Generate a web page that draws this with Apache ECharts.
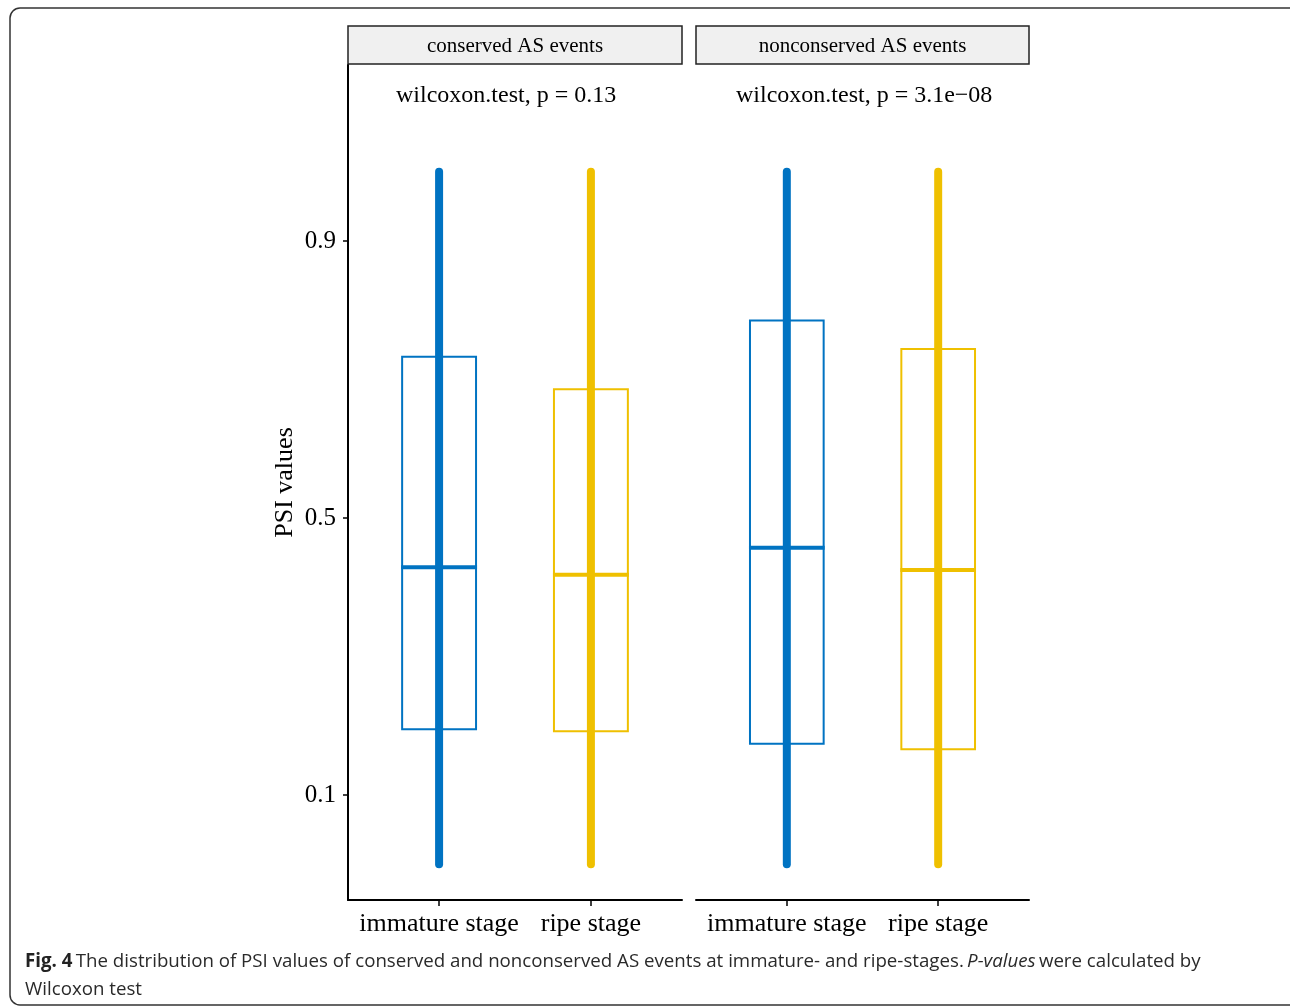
<!DOCTYPE html>
<html>
<head>
<meta charset="utf-8">
<script src="https://cdn.jsdelivr.net/npm/echarts@6/dist/echarts.min.js"></script>
<style>
html,body{margin:0;padding:0;background:#fff;}
#chart{width:1290px;height:1008px;}
</style>
</head>
<body>
<div id="chart"></div>
<script>
// ---- data ----
const categories = ['immature stage', 'ripe stage'];
const facets = ['conserved AS events', 'nonconserved AS events'];
const pLabels = ['wilcoxon.test, p = 0.13', 'wilcoxon.test, p = 3.1e\u221208'];
const yTicks = [0.1, 0.5, 0.9];
// per facet: [immature, ripe]
const whiskerLow = [[0.0, 0.0], [0.0, 0.0]];
const q1 = [[0.195, 0.192], [0.174, 0.166]];
const median = [[0.429, 0.418], [0.457, 0.425]];
const q3 = [[0.733, 0.686], [0.785, 0.744]];
const whiskerHigh = [[1.0, 1.0], [1.0, 1.0]];
const colors = ['#0073C2', '#EFC000'];

const SERIF = 'Liberation Serif';
const chart = echarts.init(document.getElementById('chart'), null, {renderer: 'canvas'});

const Y_MIN = -0.0516, Y_MAX = 1.1541;

function renderBox(params, api) {
  const x = api.value(0);
  const lo = api.value(1), a = api.value(2), m = api.value(3), b = api.value(4), hi = api.value(5);
  const ci = api.value(6);
  const col = colors[ci];
  const halfW = api.size([0.5, 0])[0] / 2;
  const pLo = api.coord([x, lo]), pA = api.coord([x, a]), pM = api.coord([x, m]), pB = api.coord([x, b]), pHi = api.coord([x, hi]);
  return {
    type: 'group',
    children: [
      {type: 'rect', shape: {x: pB[0] - halfW + 1, y: pB[1], width: 2 * halfW - 2, height: pA[1] - pB[1]},
        style: {fill: 'none', stroke: col, lineWidth: 2}},
      {type: 'line', shape: {x1: pM[0] - halfW, y1: pM[1], x2: pM[0] + halfW, y2: pM[1]},
        style: {stroke: col, lineWidth: 4}},
      {type: 'line', shape: {x1: pLo[0], y1: pLo[1], x2: pHi[0], y2: pHi[1]},
        style: {stroke: col, lineWidth: 8, lineCap: 'round'}}
    ]
  };
}

function facetData(f) {
  return categories.map((c, i) => [i + 1, whiskerLow[f][i], q1[f][i], median[f][i], q3[f][i], whiskerHigh[f][i], i]);
}

const grids = [
  {left: 348, top: 65, width: 334, height: 835},
  {left: 696, top: 65, width: 333, height: 835}
];

function xAxisFor(i) {
  return {
    type: 'value', gridIndex: i, min: 0.4, max: 2.6, position: 'bottom',
    splitLine: {show: false},
    axisLine: {show: true, onZero: false, lineStyle: {color: '#000', width: 2}},
    axisTick: {show: true, customValues: [1, 2], length: 6, lineStyle: {color: '#000', width: 1.5}},
    axisLabel: {show: true, customValues: [1, 2], margin: 11, color: '#000', fontSize: 26, fontFamily: SERIF,
      formatter: v => categories[Math.round(v) - 1] || ''}
  };
}

function yAxisFor(i) {
  const show = i === 0;
  return {
    type: 'value', gridIndex: i, min: Y_MIN, max: Y_MAX,
    name: show ? 'PSI values' : '', nameLocation: 'middle', nameGap: 50,
    nameTextStyle: {color: '#000', fontSize: 26, fontFamily: SERIF},
    splitLine: {show: false},
    axisLine: {show: show, onZero: false, lineStyle: {color: '#000', width: 2}},
    axisTick: {show: show, customValues: yTicks, length: 5, lineStyle: {color: '#000', width: 1.5}},
    axisLabel: {show: show, customValues: yTicks, margin: 12, color: '#000', fontSize: 25, fontFamily: SERIF,
      formatter: v => v.toFixed(1)}
  };
}

const graphics = [
  {type: 'rect', shape: {x: 10, y: 8, width: 1300, height: 997, r: 10},
    style: {fill: 'none', stroke: '#333', lineWidth: 1.5}, silent: true}
];
grids.forEach((g, i) => {
  graphics.push({type: 'rect', shape: {x: g.left, y: 26, width: g.width, height: 38},
    style: {fill: '#F0F0F0', stroke: '#222', lineWidth: 1.5}});
  graphics.push({type: 'text', x: g.left + g.width / 2, y: 46,
    style: {text: facets[i], fontSize: 21, fontFamily: SERIF, fill: '#000', align: 'center', verticalAlign: 'middle'}});
});
graphics.push({type: 'text', x: 396, y: 96,
  style: {text: pLabels[0], fontSize: 24, fontFamily: SERIF, fill: '#000', align: 'left', verticalAlign: 'middle'}});
graphics.push({type: 'text', x: 736, y: 96,
  style: {text: pLabels[1], fontSize: 24, fontFamily: SERIF, fill: '#000', align: 'left', verticalAlign: 'middle'}});
graphics.push({type: 'text', x: 25, y: 962,
  style: {
    text: '{b|Fig. 4} {r|The distribution of PSI values of conserved and nonconserved AS events at immature- and ripe-stages.} {i|P-values} {r|were calculated by}',
    verticalAlign: 'middle', align: 'left',
    rich: {
      b: {fontSize: 18.7, fontFamily: 'Open Sans', fontWeight: 'bold', fill: '#222'},
      r: {fontSize: 18.7, fontFamily: 'Open Sans', fill: '#2a2a2a'},
      i: {fontSize: 18.7, fontFamily: 'Open Sans', fontStyle: 'italic', fill: '#2a2a2a'}
    }
  }});
graphics.push({type: 'text', x: 25, y: 990,
  style: {text: 'Wilcoxon test', fontSize: 18.7, fontFamily: 'Open Sans', fill: '#2a2a2a', verticalAlign: 'middle', align: 'left'}});

chart.setOption({
  backgroundColor: '#fff',
  animation: false,
  grid: grids,
  xAxis: [xAxisFor(0), xAxisFor(1)],
  yAxis: [yAxisFor(0), yAxisFor(1)],
  series: [0, 1].map(f => ({
    type: 'custom', xAxisIndex: f, yAxisIndex: f,
    renderItem: renderBox,
    encode: {x: 0, y: [1, 2, 3, 4, 5]},
    data: facetData(f),
    clip: false
  })),
  graphic: graphics
});
</script>
</body>
</html>
